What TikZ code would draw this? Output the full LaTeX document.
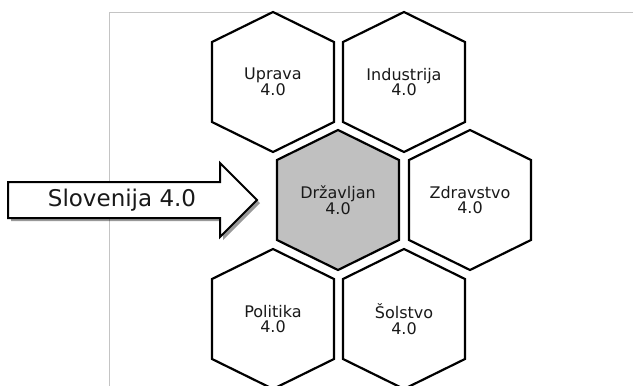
\documentclass[tikz,border=0pt]{standalone}
\usepackage{fontspec}
\setmainfont{DejaVu Sans}
\usetikzlibrary{shadows}
\definecolor{framegray}{HTML}{C4C4C4}
\definecolor{cellgray}{HTML}{C0C0C0}
\tikzset{
  frameline/.style={draw=framegray, line width=1pt},
  hexline/.style={draw=black, line width=2.2pt, line join=miter},
  hextext/.style={align=center, inner sep=0pt, text=black!90,
    font=\fontsize{16}{15.5}\selectfont},
  bigarrow/.style={draw=black, line width=2pt, fill=white, line join=miter,
    drop shadow={shadow xshift=3pt, shadow yshift=-3pt, fill=black, opacity=.4}},
  arrowtext/.style={inner sep=0pt, text=black!90, font=\fontsize{23}{27}\selectfont}
}
% one hexagonal cell: name, centre x, centre y, label, fill colour
\newcommand\hexcell[5]{%
  \draw[hexline, fill=#5] (#2,#3) +(0,-70) -- +(61,-40) -- +(61,40) -- +(0,70)
    -- +(-61,40) -- +(-61,-40) -- cycle;
  \node[hextext] (#1) at (#2,#3) {#4\\4.0};
}
\begin{document}
\begin{tikzpicture}[x=1pt, y=-1pt]
  \useasboundingbox (0,0) rectangle (633,386);
  \clip (0,0) rectangle (633,386);
  \fill[white] (0,0) rectangle (633,386);
  % slide frame
  \draw[frameline] (109,400) -- (109,12) -- (650,12);
  % honeycomb
  \hexcell{uprava}{273}{82}{Uprava}{white}
  \hexcell{industrija}{404}{82}{Industrija}{white}
  \hexcell{drzavljan}{338}{200}{Državljan}{cellgray}
  \hexcell{zdravstvo}{470}{200}{Zdravstvo}{white}
  \hexcell{politika}{273}{319}{Politika}{white}
  \hexcell{solstvo}{404}{319}{Šolstvo}{white}
  % block arrow pointing at the central cell
  \draw[bigarrow] (8,182) -- (220,182) -- (220,163) -- (257,200) -- (220,237)
    -- (220,218) -- (8,218) -- cycle;
  \node[arrowtext] (slo) at (122,200) {Slovenija 4.0};
\end{tikzpicture}
\end{document}
